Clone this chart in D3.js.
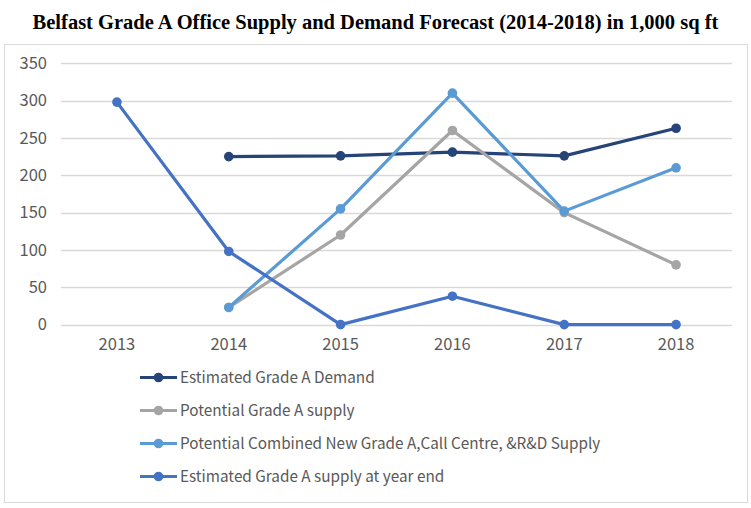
<!DOCTYPE html>
<html>
<head>
<meta charset="utf-8">
<script src="https://cdn.jsdelivr.net/npm/d3@7"></script>
<style>
  body { margin: 0; background: #fff; }
  svg { display: block; }
</style>
</head>
<body>
<svg id="chart" width="751" height="508"></svg>
<script>
// Years on the category axis
const years = ["2013", "2014", "2015", "2016", "2017", "2018"];
// Series values in 1,000 sq ft (null = no value for that year)
const demand = [null, 225, 226, 231, 226, 263];
const potentialSupply = [null, 23, 120, 260, 150, 80];
const combinedSupply = [null, 23, 155, 310, 152, 210];
const yearEndSupply = [298, 98, 0, 38, 0, 0];
const yTicks = [0, 50, 100, 150, 200, 250, 300, 350];

const seriesNames = [
  "Estimated Grade A Demand",
  "Potential Grade A supply",
  "Potential Combined New Grade A,Call Centre, &R&D Supply",
  "Estimated Grade A supply at year end"
];
const seriesColors = ["#264478", "#A5A5A5", "#5B9BD5", "#4472C4"];

const series = [demand, potentialSupply, combinedSupply, yearEndSupply].map((vals, i) => ({
  name: seriesNames[i],
  color: seriesColors[i],
  points: vals.map((v, j) => ({ year: years[j], value: v }))
}));

const svg = d3.select("#chart");
const font = "'Noto Sans CJK SC', 'Noto Sans', sans-serif";

// Outer chart frame
svg.append("rect")
  .attr("x", 4.5).attr("y", 44.5)
  .attr("width", 743).attr("height", 458)
  .attr("fill", "#fff").attr("stroke", "#d9d9d9").attr("stroke-width", 1);

// Title
svg.append("text")
  .attr("x", 375.5).attr("y", 29)
  .attr("text-anchor", "middle")
  .attr("font-family", "'Liberation Serif', 'Times New Roman', serif")
  .attr("font-weight", "bold")
  .attr("font-size", 20.5)
  .attr("fill", "#000")
  .text("Belfast Grade A Office Supply and Demand Forecast (2014-2018) in 1,000 sq ft");

const x = d3.scaleBand().domain(years).range([61, 732]);
const y = d3.scaleLinear().domain([0, 350]).range([324.6, 63.3]);

// Horizontal gridlines
svg.append("g")
  .selectAll("line")
  .data(yTicks)
  .join("line")
  .attr("x1", 61).attr("x2", 732)
  .attr("y1", d => Math.round(y(d)) + 0.5)
  .attr("y2", d => Math.round(y(d)) + 0.5)
  .attr("stroke", "#d9d9d9")
  .attr("stroke-width", 1.3);

// Y axis labels
const yAxis = d3.axisLeft(y).tickValues(yTicks).tickSize(0).tickPadding(0);
const gy = svg.append("g").attr("transform", "translate(47,0)").call(yAxis);
gy.select(".domain").remove();
gy.selectAll("text")
  .attr("font-family", font).attr("font-size", 16.5).attr("fill", "#595959");

// X axis labels
const xAxis = d3.axisBottom(x).tickSize(0).tickPadding(0);
const gx = svg.append("g").attr("transform", "translate(0,338)").call(xAxis);
gx.select(".domain").remove();
gx.selectAll("text")
  .attr("font-family", font).attr("font-size", 16.5).attr("fill", "#595959");

const cx = d => x(d.year) + x.bandwidth() / 2;
const line = d3.line()
  .defined(d => d.value !== null)
  .x(cx)
  .y(d => y(d.value));

// Series lines and markers
const sg = svg.append("g").selectAll("g").data(series).join("g");
sg.append("path")
  .attr("d", d => line(d.points))
  .attr("fill", "none")
  .attr("stroke", d => d.color)
  .attr("stroke-width", 3.2)
  .attr("stroke-linejoin", "round")
  .attr("stroke-linecap", "round");
sg.each(function (s) {
  d3.select(this).selectAll("circle")
    .data(s.points.filter(p => p.value !== null))
    .join("circle")
    .attr("cx", cx)
    .attr("cy", p => y(p.value))
    .attr("r", 4.8)
    .attr("fill", s.color);
});

// Legend
const legend = svg.append("g")
  .selectAll("g")
  .data(series)
  .join("g")
  .attr("transform", (d, i) => `translate(140,${377.5 + i * 33})`);
legend.append("line")
  .attr("x1", 0).attr("x2", 37)
  .attr("stroke", d => d.color).attr("stroke-width", 3.2);
legend.append("circle")
  .attr("cx", 18.5).attr("r", 4.8).attr("fill", d => d.color);
legend.append("text")
  .attr("x", 40).attr("dy", "0.35em")
  .attr("font-family", font).attr("font-size", 15.3).attr("fill", "#595959")
  .text(d => d.name);
</script>
</body>
</html>
